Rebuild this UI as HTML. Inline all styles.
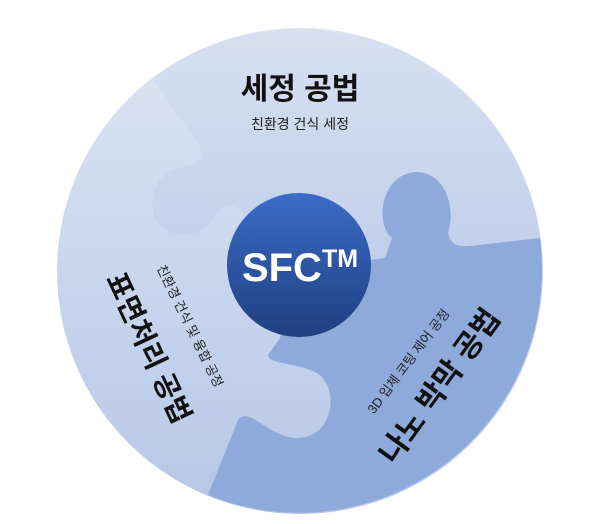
<!DOCTYPE html>
<html><head><meta charset="utf-8"><style>
html,body{margin:0;padding:0;background:#fff;width:600px;height:524px;overflow:hidden}
</style></head><body>
<svg width="600" height="524" viewBox="0 0 600 524" xmlns="http://www.w3.org/2000/svg" font-family="'Liberation Sans','Noto Sans CJK KR',sans-serif">
<defs>
<linearGradient id="gl" x1="0" y1="0" x2="0" y2="1"><stop offset="0" stop-color="#dde5f4"/><stop offset="1" stop-color="#b5c7e7"/></linearGradient>
<linearGradient id="gt" x1="0" y1="0" x2="0" y2="1"><stop offset="0" stop-color="#d6e0f1"/><stop offset="1" stop-color="#c0cfea"/></linearGradient>
<linearGradient id="gc" x1="0" y1="0" x2="0" y2="1"><stop offset="0" stop-color="#3a6cc8"/><stop offset="1" stop-color="#1f3f80"/></linearGradient>
</defs>
<circle cx="300" cy="271" r="243" fill="url(#gl)"/>
<path d="M152,79 L200,146 C205,160 195,165 180,168 C155,172 148,200 155,218 C165,240 200,240 212,220 C220,205 235,200 245,215 L300,270 L385,258 L392,238 C375,225 380,175 415,172 C450,172 455,215 448,232 C450,245 458,247 470,246 L540,238 A243 243 0 0 0 152,79 Z" fill="url(#gt)"/>
<path d="M300,270 L385,258 L392,238 C375,225 380,175 415,172 C450,172 455,215 448,232 C450,245 458,247 470,246 L540,238 A243 243 0 0 1 208,495 L238,420 C250,405 270,440 300,438 C335,435 340,385 315,372 C295,362 270,365 268,355 L280,338 Z" fill="#8eaadb"/>
<circle cx="299" cy="265" r="72" fill="url(#gc)"/>
<text x="300" y="281" text-anchor="middle" fill="#fff" font-size="40" font-weight="bold">SFC<tspan font-size="25" dy="-14">TM</tspan></text>
<text x="300" y="99" text-anchor="middle" font-size="30" font-weight="bold" fill="#111">세정 공법</text>
<text x="300" y="129" text-anchor="middle" font-size="14" fill="#222">친환경 건식 세정</text>
<text transform="translate(140,352) rotate(65)" text-anchor="middle" font-size="28" font-weight="bold" fill="#111">표면처리 공법</text>
<text transform="translate(186,328) rotate(64)" text-anchor="middle" font-size="13" fill="#222">친환경 건식 및 융합 공정</text>
<text transform="translate(448,392) rotate(-54)" text-anchor="middle" font-size="30" font-weight="bold" fill="#111">나노 박막 공법</text>
<text transform="translate(412,364) rotate(-53)" text-anchor="middle" font-size="13" fill="#222">3D 입체 코팅 제어 공정</text>
</svg>
</body></html>
